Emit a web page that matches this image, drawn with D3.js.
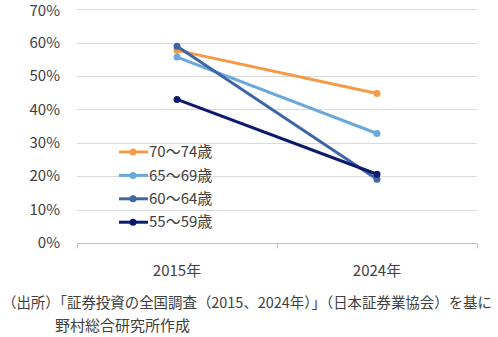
<!DOCTYPE html>
<html><head><meta charset="utf-8">
<script src="https://cdn.jsdelivr.net/npm/d3@7"></script>
<style>html,body{margin:0;padding:0;background:#fff;}svg{display:block;font-family:"Noto Sans CJK JP","Noto Sans",sans-serif;}</style>
</head><body>
<div id="chart"></div>
<script>
const categories = ["2015年", "2024年"];
const seriesNames = ["70～74歳", "65～69歳", "60～64歳", "55～59歳"];
const seriesColors = ["#F59A46", "#6BA9DA", "#3F65A7", "#0B1A6C"];
const values70_74 = [0.577, 0.448];
const values65_69 = [0.557, 0.328];
const values60_64 = [0.589, 0.191];
const values55_59 = [0.430, 0.206];
const yTicks = [0, 0.1, 0.2, 0.3, 0.4, 0.5, 0.6, 0.7];
const sourceLines = ["（出所）「証券投資の全国調査（2015、2024年）」（日本証券業協会）を基に", "野村総合研究所作成"];

(function () {
const seriesValues = [values70_74, values65_69, values60_64, values55_59];
const W = 498, H = 337;
const svg = d3.select("#chart").append("svg").attr("width", W).attr("height", H);
const pLeft = 77, pRight = 477, pTop = 9.3, pBottom = 243;
const x = d3.scaleBand().domain(categories).range([pLeft, pRight]);
const y = d3.scaleLinear().domain([0, 0.7]).range([pBottom, pTop]);
const fs = 15;

// gridlines
svg.append("g").selectAll("line").data(yTicks.filter(d => d > 0)).join("line")
  .attr("x1", pLeft).attr("x2", pRight)
  .attr("y1", d => Math.round(y(d)) + 0.5).attr("y2", d => Math.round(y(d)) + 0.5)
  .attr("stroke", "#D9D9D9").attr("stroke-width", 1);

// y labels
svg.append("g").selectAll("text").data(yTicks).join("text")
  .attr("x", 60).attr("y", d => Math.max(y(d), 10.5)).attr("dy", "0.35em")
  .attr("text-anchor", "end").attr("font-size", fs).attr("fill", "#404040")
  .text(d3.format(".0%"));

// x axis
const ax = svg.append("g").attr("transform", `translate(0,${Math.round(pBottom) + 0.5})`);
ax.append("line").attr("x1", pLeft).attr("x2", pRight).attr("stroke", "#BFBFBF");
const bounds = [pLeft, ...categories.slice(1).map(c => x(c)), pRight];
ax.selectAll(".tk").data(bounds).join("line").attr("class", "tk")
  .attr("x1", d => Math.round(d) + 0.5).attr("x2", d => Math.round(d) + 0.5)
  .attr("y1", 0).attr("y2", 5).attr("stroke", "#BFBFBF");
svg.append("g").selectAll("text").data(categories).join("text")
  .attr("x", d => x(d) + x.bandwidth() / 2).attr("y", 276)
  .attr("text-anchor", "middle").attr("font-size", fs).attr("fill", "#404040")
  .text(d => d);

// lines
const line = d3.line().x((d, i) => x(categories[i]) + x.bandwidth() / 2).y(d => y(d));
[0, 1, 2, 3].forEach(si => {
  const g = svg.append("g");
  g.append("path").datum(seriesValues[si]).attr("d", line)
    .attr("fill", "none").attr("stroke", seriesColors[si]).attr("stroke-width", 3)
    .attr("stroke-linejoin", "round");
  g.selectAll("circle").data(seriesValues[si]).join("circle")
    .attr("cx", (d, i) => x(categories[i]) + x.bandwidth() / 2).attr("cy", d => y(d))
    .attr("r", 3.5).attr("fill", seriesColors[si]);
});

// legend
const leg = svg.append("g");
seriesNames.forEach((n, i) => {
  const yy = 152 + i * 23.4;
  leg.append("line").attr("x1", 119).attr("x2", 148).attr("y1", yy).attr("y2", yy)
    .attr("stroke", seriesColors[i]).attr("stroke-width", 3);
  leg.append("circle").attr("cx", 133).attr("cy", yy).attr("r", 3.5).attr("fill", seriesColors[i]);
  leg.append("text").attr("x", 149).attr("y", yy).attr("dy", "0.35em")
    .attr("font-size", fs).attr("fill", "#404040").text(n);
});

// source
svg.append("text").attr("x", 2).attr("y", 308).attr("font-size", 14.5).attr("fill", "#404040")
  .attr("textLength", 490).attr("lengthAdjust", "spacingAndGlyphs").text(sourceLines[0]);
svg.append("text").attr("x", 55).attr("y", 331).attr("font-size", fs).attr("fill", "#404040")
  .text(sourceLines[1]);
})();
</script>
</body></html>
